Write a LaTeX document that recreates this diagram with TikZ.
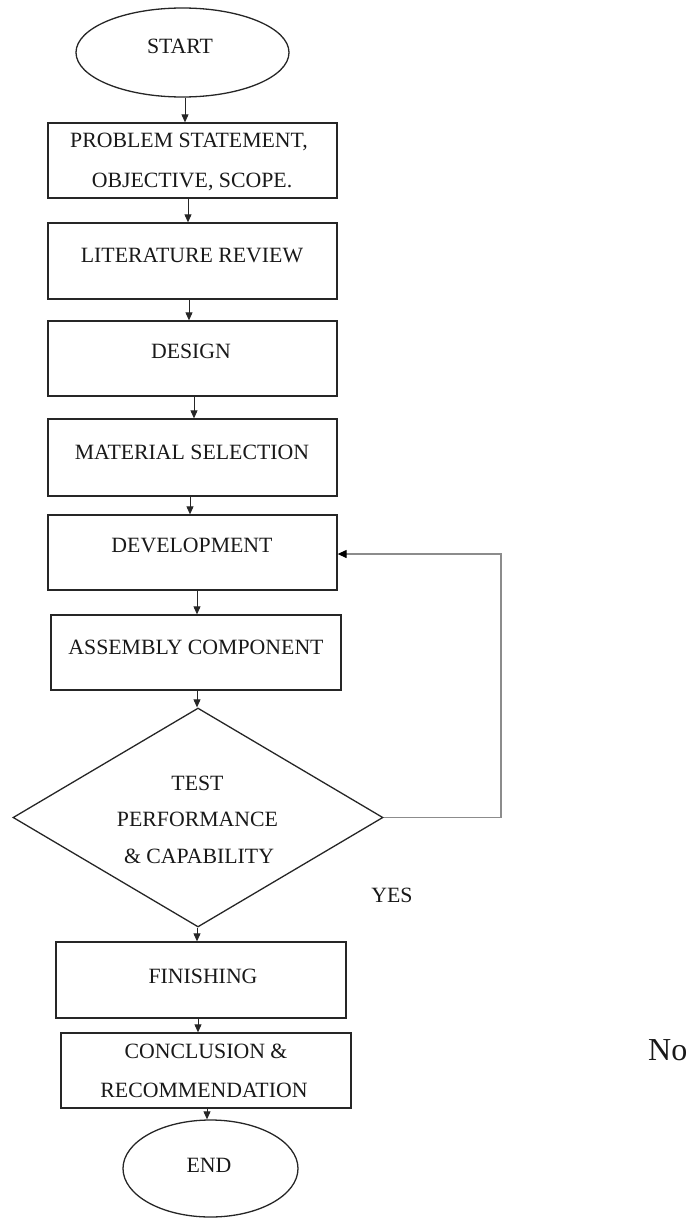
\documentclass[tikz,border=0pt]{standalone}
\usepackage{fontspec}
\setmainfont{Liberation Serif}
\usetikzlibrary{shapes.geometric,arrows.meta}
\begin{document}
\begin{tikzpicture}[x=1pt,y=-1pt,
  box/.style={draw=black!85, line width=1.3pt, rectangle, inner sep=0pt},
  oval/.style={draw=black!85, line width=1.3pt, ellipse, inner sep=0pt},
  decision/.style={draw=black!85, line width=1.3pt, diamond, inner sep=0pt},
  lbl/.style={inner sep=0pt, anchor=base, font=\fontsize{21.8}{21.8}\selectfont, text=black!90},
  arr/.style={-{Triangle[length=8pt,width=7pt]}, line width=0.9pt, draw=black!85},
  back/.style={draw=black!45, line width=1.2pt, -{Triangle[length=9pt,width=8pt,color=black]}}]
\useasboundingbox (0,0) rectangle (692,1218);

% shapes
\node[oval, minimum width=213pt, minimum height=89pt] (start) at (182.5,52.5) {};
\node[box, minimum width=289pt, minimum height=75pt] (b1) at (192.5,160.5) {};
\node[box, minimum width=289pt, minimum height=76pt] (b2) at (192.5,261) {};
\node[box, minimum width=289pt, minimum height=75pt] (b3) at (192.5,358.5) {};
\node[box, minimum width=289pt, minimum height=77pt] (b4) at (192.5,457.5) {};
\node[box, minimum width=289pt, minimum height=75pt] (b5) at (192.5,552.5) {};
\node[box, minimum width=290pt, minimum height=75pt] (b6) at (196,652.5) {};
\node[decision, minimum width=370pt, minimum height=219pt] (dia) at (198,817.5) {};
\node[box, minimum width=290pt, minimum height=76pt] (fin) at (201,980) {};
\node[box, minimum width=290pt, minimum height=75pt] (conc) at (206,1070.5) {};
\node[oval, minimum width=175pt, minimum height=97pt] (end) at (210.5,1168.5) {};

% texts
\node[lbl] (tstart) at (180,53) {START};
\node[lbl] (t1a) at (189,147) {PROBLEM STATEMENT,};
\node[lbl] (t1b) at (192,187) {OBJECTIVE, SCOPE.};
\node[lbl] (t2) at (192,262) {LITERATURE REVIEW};
\node[lbl] (t3) at (191,358) {DESIGN};
\node[lbl] (t4) at (192,459) {MATERIAL SELECTION};
\node[lbl] (t5) at (192,552) {DEVELOPMENT};
\node[lbl] (t6) at (196,654) {ASSEMBLY COMPONENT};
\node[lbl] (tda) at (197.5,790) {TEST};
\node[lbl] (tdb) at (197.5,826) {PERFORMANCE};
\node[lbl] (tdc) at (199,863) {\& CAPABILITY};
\node[lbl] (tyes) at (392,902) {YES};
\node[lbl] (tfin) at (203,983) {FINISHING};
\node[lbl] (tca) at (206,1058) {CONCLUSION \&};
\node[lbl] (tcb) at (204,1097) {RECOMMENDATION};
\node[lbl] (tend) at (209,1172) {END};
\node[lbl, anchor=base west, font=\fontsize{32}{32}\selectfont] (tno) at (648,1060) {No};

% helper x positions
\coordinate (xa) at (185,0);
\coordinate (xb) at (188,0);
\coordinate (xc) at (189,0);
\coordinate (xd) at (194,0);
\coordinate (xe) at (190,0);
\coordinate (xf) at (197,0);
\coordinate (xg) at (198,0);
\coordinate (xh) at (207,0);
\coordinate (fbk) at (501,554);

% connectors
\draw[arr] (start.south -| xa) -- (b1.north -| xa);
\draw[arr] (b1.south -| xb) -- (b2.north -| xb);
\draw[arr] (b2.south -| xc) -- (b3.north -| xc);
\draw[arr] (b3.south -| xd) -- (b4.north -| xd);
\draw[arr] (b4.south -| xe) -- (b5.north -| xe);
\draw[arr] (b5.south -| xf) -- (b6.north -| xf);
\draw[arr] (b6.south -| xf) -- (dia.north -| xf);
\draw[arr] (dia.south -| xf) -- (fin.north -| xf);
\draw[arr] (fin.south -| xg) -- (conc.north -| xg);
\draw[arr] (conc.south -| xh) -- (end.north -| xh);
\draw[back] (dia.east) -| (fbk) -- (fbk -| b5.east);
\end{tikzpicture}
\end{document}
